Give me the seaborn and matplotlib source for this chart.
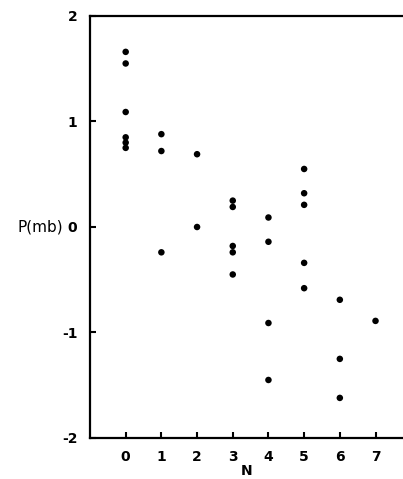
import matplotlib

matplotlib.use("Agg")
import matplotlib.pyplot as plt
import pandas as pd
import seaborn as sns

# values
n_values = [0, 0, 0, 0, 0, 0,
            1, 1, 1,
            2, 2,
            3, 3, 3, 3, 3,
            4, 4, 4, 4,
            5, 5, 5, 5, 5,
            6, 6, 6,
            7]
p_values = [1.66, 1.55, 1.09, 0.85, 0.80, 0.75,
            0.88, 0.72, -0.24,
            0.69, 0.0,
            0.25, 0.19, -0.18, -0.24, -0.45,
            0.09, -0.14, -0.91, -1.45,
            0.55, 0.32, 0.21, -0.34, -0.58,
            -0.69, -1.25, -1.62,
            -0.89]
x_ticks = [0, 1, 2, 3, 4, 5, 6, 7]
y_ticks = [-2, -1, 0, 1, 2]

sns.set_theme(style="white")
plt.rcParams["font.family"] = ["DejaVu Sans"]
plt.rcParams["axes.unicode_minus"] = False
plt.rcParams["text.color"] = "black"
plt.rcParams["axes.labelcolor"] = "black"
plt.rcParams["xtick.color"] = "black"
plt.rcParams["ytick.color"] = "black"

data = pd.DataFrame({"N": n_values, "P(mb)": p_values})

fig = plt.figure(figsize=(4.03, 4.79), dpi=100)
ax = fig.add_axes([0.2233, 0.0856, 0.7767, 0.881])

sns.scatterplot(data=data, x="N", y="P(mb)", ax=ax, color="black",
                s=22, edgecolor="none", linewidth=0)

ax.set_xlim(-1, 7.77)
ax.set_ylim(-2, 2)
ax.set_xticks(x_ticks)
ax.set_yticks(y_ticks)
ax.set_xticklabels([str(t) for t in x_ticks], fontsize=10, fontweight="bold")
ax.set_yticklabels([str(t) for t in y_ticks], fontsize=10, fontweight="bold")
ax.tick_params(direction="in", length=4, width=1.5, color="black", pad=9,
               bottom=True, left=True)

for side in ["left", "top", "bottom"]:
    ax.spines[side].set_color("black")
    ax.spines[side].set_linewidth(1.6)
ax.spines["right"].set_visible(False)

ax.set_xlabel("N", fontsize=10, fontweight="bold", labelpad=0)
ax.set_ylabel("P(mb)", fontsize=11, rotation=0, ha="right", va="center")
ax.yaxis.set_label_coords(-0.085, 0.5)

fig.savefig("out.png", dpi=100)
